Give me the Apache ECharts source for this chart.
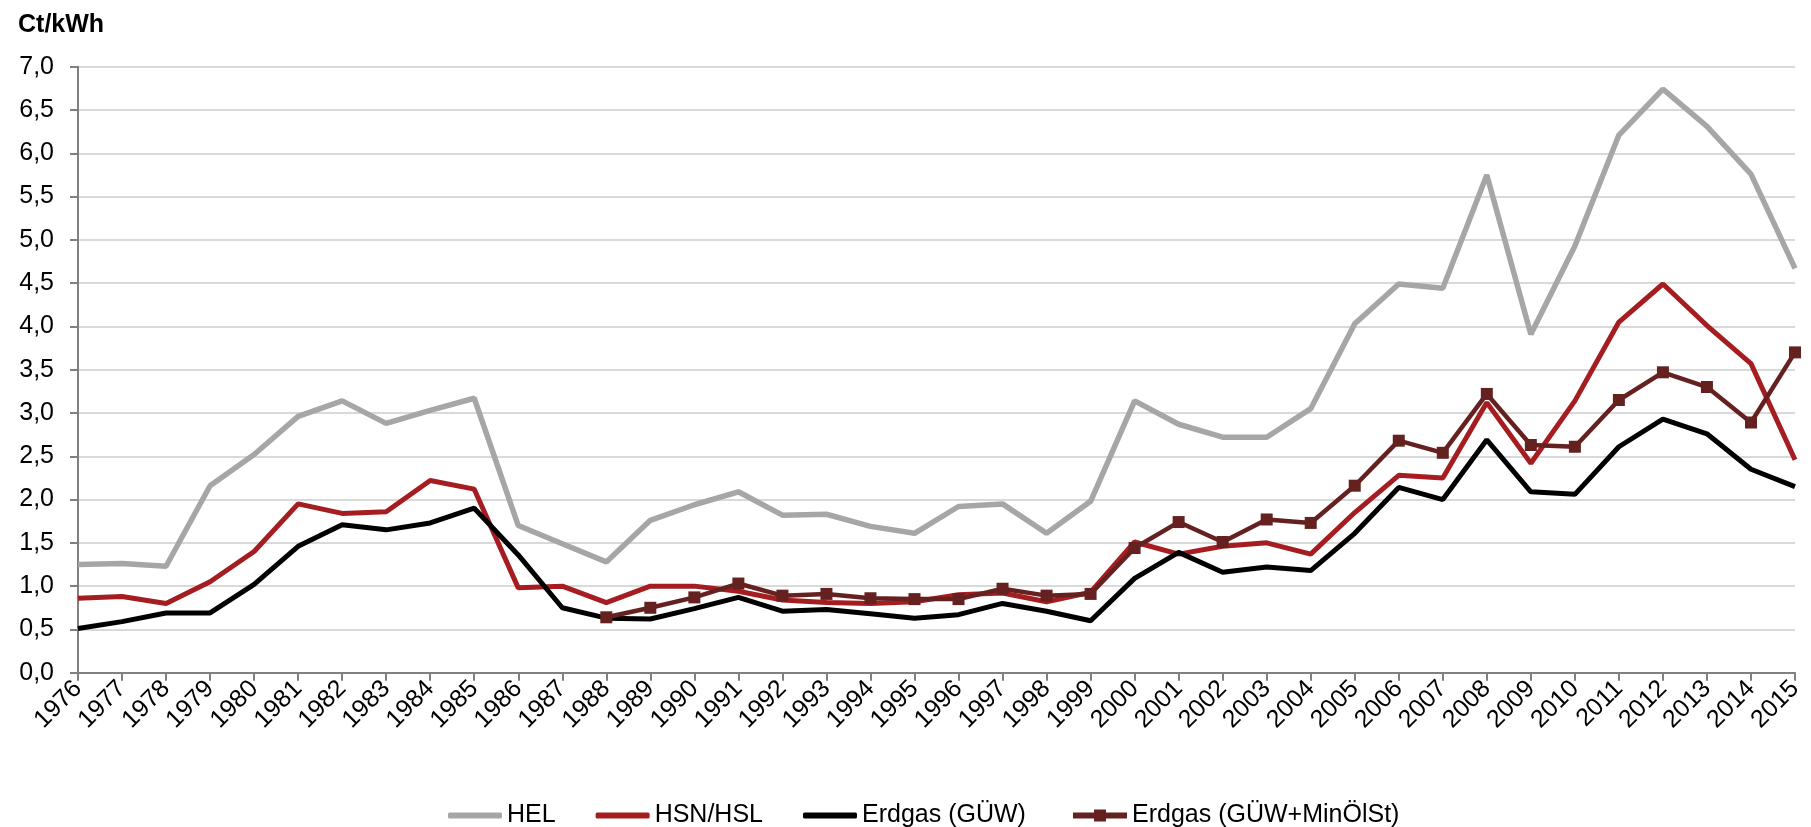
<!DOCTYPE html>
<html>
<head>
<meta charset="utf-8">
<script src="https://cdn.jsdelivr.net/npm/echarts@6/dist/echarts.min.js"></script>
<style>
  html, body { margin: 0; padding: 0; background: #fff; }
  #chart { width: 1811px; height: 827px; }
</style>
</head>
<body>
<div id="chart"></div>
<script>
const years = [
  '1976','1977','1978','1979','1980','1981','1982','1983','1984','1985',
  '1986','1987','1988','1989','1990','1991','1992','1993','1994','1995',
  '1996','1997','1998','1999','2000','2001','2002','2003','2004','2005',
  '2006','2007','2008','2009','2010','2011','2012','2013','2014','2015'
];

const hel = [
  1.25, 1.26, 1.23, 2.16, 2.52, 2.96, 3.14, 2.88, 3.03, 3.17,
  1.70, 1.49, 1.28, 1.76, 1.94, 2.09, 1.82, 1.83, 1.69, 1.61,
  1.92, 1.95, 1.61, 1.98, 3.14, 2.87, 2.72, 2.72, 3.05, 4.03,
  4.49, 4.44, 5.75, 3.91, 4.93, 6.21, 6.74, 6.31, 5.76, 4.67
];

const hsn = [
  0.86, 0.88, 0.80, 1.05, 1.40, 1.95, 1.84, 1.86, 2.22, 2.12,
  0.98, 1.00, 0.81, 1.00, 1.00, 0.94, 0.84, 0.81, 0.80, 0.82,
  0.90, 0.92, 0.82, 0.93, 1.51, 1.37, 1.46, 1.50, 1.37, 1.85,
  2.28, 2.25, 3.12, 2.42, 3.14, 4.05, 4.49, 4.01, 3.57, 2.46
];

const erdgas = [
  0.51, 0.59, 0.69, 0.69, 1.02, 1.46, 1.71, 1.65, 1.73, 1.90,
  1.36, 0.75, 0.63, 0.62, 0.74, 0.87, 0.71, 0.73, 0.68, 0.63,
  0.67, 0.80, 0.71, 0.60, 1.09, 1.39, 1.16, 1.22, 1.18, 1.61,
  2.14, 2.00, 2.69, 2.09, 2.06, 2.61, 2.93, 2.76, 2.35, 2.15
];

// starts 1988
const erdgasMin = [
  null, null, null, null, null, null, null, null, null, null,
  null, null, 0.64, 0.75, 0.87, 1.03, 0.89, 0.91, 0.86, 0.85,
  0.85, 0.97, 0.89, 0.91, 1.44, 1.74, 1.51, 1.77, 1.73, 2.16,
  2.68, 2.54, 3.22, 2.63, 2.61, 3.15, 3.47, 3.30, 2.89, 3.70
];

const FONT = "'Liberation Sans', Arial, sans-serif";

const chart = echarts.init(document.getElementById('chart'));

const lineSeries = (name, data, color, width, extra) => Object.assign({
  name: name,
  type: 'line',
  data: data,
  showSymbol: false,
  symbol: 'none',
  lineStyle: { color: color, width: width },
  itemStyle: { color: color },
  emphasis: { disabled: true }
}, extra || {});

const legendText = { fontFamily: FONT, fontSize: 25, color: '#000' };

chart.setOption({
  animation: false,
  backgroundColor: '#ffffff',
  title: {
    text: 'Ct/kWh',
    left: 13,
    top: 8,
    textStyle: { fontFamily: FONT, fontSize: 25, fontWeight: 'bold', color: '#000' }
  },
  // two legends: plain line icons, and line + square icon
  legend: [
    {
      left: 443,
      top: 798,
      icon: 'roundRect',
      itemWidth: 54,
      itemHeight: 6,
      itemGap: 40,
      textStyle: legendText,
      data: ['HEL', 'HSN/HSL', 'Erdgas (GÜW)']
    },
    {
      left: 1065,
      top: 798,
      itemWidth: 54,
      itemHeight: 15,
      lineStyle: { width: 6 },
      textStyle: legendText,
      data: ['Erdgas (GÜW+MinÖlSt)']
    }
  ],
  grid: {
    left: 78,
    right: 16,
    top: 66.7,
    bottom: 154.3,
    containLabel: false
  },
  xAxis: {
    type: 'category',
    data: years,
    boundaryGap: false,
    axisLine: { lineStyle: { color: '#808080', width: 2 } },
    axisTick: { show: true, length: 8, alignWithLabel: true, lineStyle: { color: '#808080', width: 2 } },
    axisLabel: {
      interval: 0,
      rotate: 45,
      margin: 12,
      fontFamily: FONT,
      fontSize: 25,
      color: '#000'
    },
    splitLine: { show: false }
  },
  yAxis: {
    type: 'value',
    min: 0,
    max: 7,
    interval: 0.5,
    axisLine: { show: true, lineStyle: { color: '#808080', width: 2 } },
    axisTick: { show: true, length: 8, lineStyle: { color: '#808080', width: 2 } },
    axisLabel: {
      margin: 24,
      fontFamily: FONT,
      fontSize: 25,
      color: '#000',
      formatter: v => v.toFixed(1).replace('.', ',')
    },
    splitLine: { show: true, lineStyle: { color: '#D9D9D9', width: 2 } }
  },
  series: [
    lineSeries('HEL', hel, '#A6A6A6', 5.5),
    lineSeries('HSN/HSL', hsn, '#A51D20', 5),
    lineSeries('Erdgas (GÜW)', erdgas, '#000000', 5),
    lineSeries('Erdgas (GÜW+MinÖlSt)', erdgasMin, '#65211F', 4.5, {
      showSymbol: true,
      symbol: 'rect',
      symbolSize: 12,
      clip: false
    })
  ]
});
</script>
</body>
</html>
